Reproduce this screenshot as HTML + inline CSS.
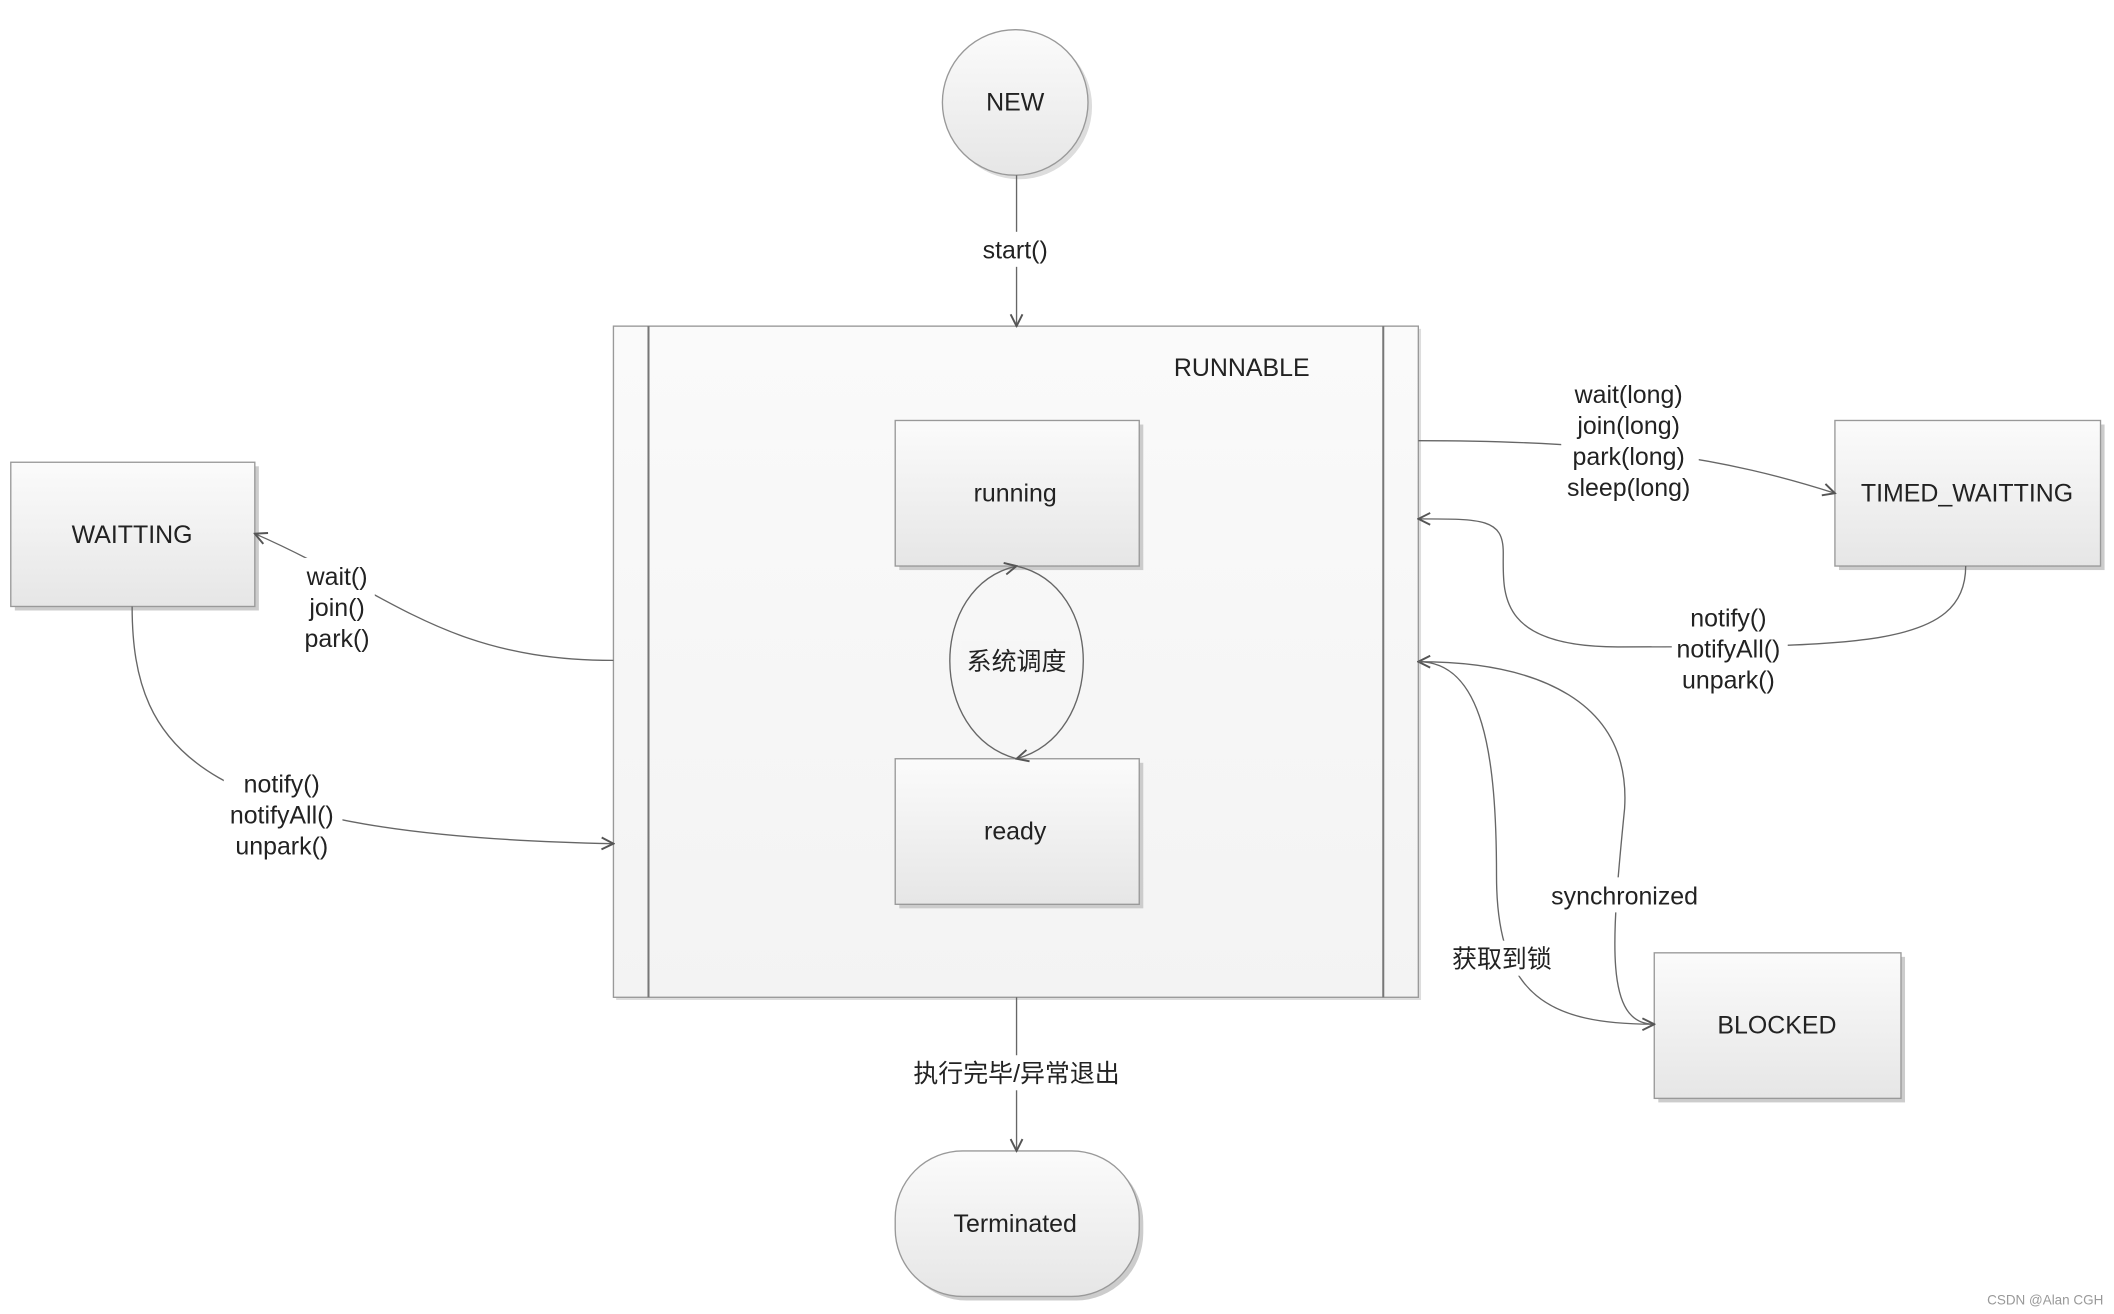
<!DOCTYPE html>
<html><head><meta charset="utf-8"><style>html,body{margin:0;padding:0;background:#fff}svg{display:block}</style></head>
<body>
<svg width="2114" height="1314" viewBox="0 0 1568 975" preserveAspectRatio="none" xmlns="http://www.w3.org/2000/svg" font-family="Liberation Sans, Noto Sans CJK SC, sans-serif" font-size="18.5" fill="#222">
<defs>
<linearGradient id="g" x1="0" y1="0" x2="0" y2="1"><stop offset="0" stop-color="#fbfbfb"/><stop offset="1" stop-color="#e6e6e6"/></linearGradient>
<linearGradient id="g2" x1="0" y1="0" x2="0" y2="1"><stop offset="0" stop-color="#fafafa"/><stop offset="1" stop-color="#f3f3f3"/></linearGradient>
<marker id="a" viewBox="0 0 10 10" refX="9" refY="5" markerWidth="11" markerHeight="11" orient="auto-start-reverse" markerUnits="userSpaceOnUse"><path d="M1,1 L9,5 L1,9" fill="none" stroke="#555" stroke-width="1.3"/></marker>
</defs>
<g stroke="#999" stroke-width="1">
<rect x="457" y="244" width="597" height="498" fill="#ddd" stroke="none"/>
<rect x="455" y="242" width="597" height="498" fill="url(#g2)"/>
<line x1="481" y1="242" x2="481" y2="740" stroke="#777" stroke-width="1.5"/>
<line x1="1026" y1="242" x2="1026" y2="740" stroke="#777" stroke-width="1.5"/>
<circle cx="756" cy="79" r="54" fill="#ddd" stroke="none"/>
<circle cx="753" cy="76" r="54" fill="url(#g)"/>
<rect x="667" y="315" width="181" height="108" fill="#ccc" stroke="none"/>
<rect x="664" y="312" width="181" height="108" fill="url(#g)"/>
<rect x="667" y="566" width="181" height="108" fill="#ccc" stroke="none"/>
<rect x="664" y="563" width="181" height="108" fill="url(#g)"/>
<rect x="11" y="346" width="181" height="107" fill="#ccc" stroke="none"/>
<rect x="8" y="343" width="181" height="107" fill="url(#g)"/>
<rect x="1364" y="315" width="197" height="108" fill="#ccc" stroke="none"/>
<rect x="1361" y="312" width="197" height="108" fill="url(#g)"/>
<rect x="1230" y="710" width="183" height="108" fill="#ccc" stroke="none"/>
<rect x="1227" y="707" width="183" height="108" fill="url(#g)"/>
<rect x="667" y="857" width="181" height="108" rx="50" fill="#ccc" stroke="none"/>
<rect x="664" y="854" width="181" height="108" rx="50" fill="url(#g)"/>
</g>
<g stroke="#666" stroke-width="1" fill="none">
<path d="M754,130 L754,242" marker-end="url(#a)"/>
<path d="M754,740 L754,854" marker-end="url(#a)"/>
<path d="M455,490 C330,490 290,440 189,396" marker-end="url(#a)"/>
<path d="M98,450 C98,560 150,620 455,626" marker-end="url(#a)"/>
<path d="M1052,327 C1200,327 1280,340 1361,366" marker-end="url(#a)"/>
<path d="M1458,420 C1458,480 1380,480 1200,480 C1110,480 1115,440 1115,410 C1115,385 1100,385 1052,385" marker-end="url(#a)"/>
<path d="M1227,760 C1190,760 1195,700 1205,600 C1210,520 1140,491 1052,491" marker-end="url(#a)"/>
<path d="M1052,491 C1100,491 1110,560 1110,650 C1110,740 1150,760 1227,760" marker-end="url(#a)"/>
<path d="M754,563 C688,545 688,435 754,420" marker-end="url(#a)"/>
<path d="M754,420 C820,435 820,545 754,563" marker-end="url(#a)"/>
</g>
<g fill="#fff">
<rect x="725" y="172" width="58" height="26"/>
<rect x="672" y="783" width="164" height="26"/>
<rect x="222" y="414" width="56" height="72"/>
<rect x="166" y="568" width="88" height="72"/>
<rect x="1158" y="279" width="102" height="95"/>
<rect x="1240" y="445" width="86" height="72"/>
<rect x="1145" y="651" width="120" height="26"/>
<rect x="1074" y="698" width="82" height="26"/>
<rect x="714" y="476" width="80" height="28" fill="#f6f6f6"/>
</g>
<g text-anchor="middle">
<text x="753" y="82">NEW</text>
<text x="753" y="192">start()</text>
<text x="921" y="279">RUNNABLE</text>
<text x="753" y="372">running</text>
<text x="753" y="623">ready</text>
<text x="754" y="497">系统调度</text>
<text x="98" y="403">WAITTING</text>
<text x="1459" y="372">TIMED_WAITTING</text>
<text x="1318" y="767">BLOCKED</text>
<text x="753" y="914">Terminated</text>
<text x="754" y="803">执行完毕/异常退出</text>
<text x="250" y="434">wait()</text><text x="250" y="457">join()</text><text x="250" y="480">park()</text>
<text x="209" y="588">notify()</text><text x="209" y="611">notifyAll()</text><text x="209" y="634">unpark()</text>
<text x="1208" y="299">wait(long)</text><text x="1208" y="322">join(long)</text><text x="1208" y="345">park(long)</text><text x="1208" y="368">sleep(long)</text>
<text x="1282" y="465">notify()</text><text x="1282" y="488">notifyAll()</text><text x="1282" y="511">unpark()</text>
<text x="1205" y="671">synchronized</text>
<text x="1114" y="718">获取到锁</text>
<text x="1517" y="968" font-size="10" fill="#999">CSDN @Alan CGH</text>
</g>
</svg>
</body></html>
